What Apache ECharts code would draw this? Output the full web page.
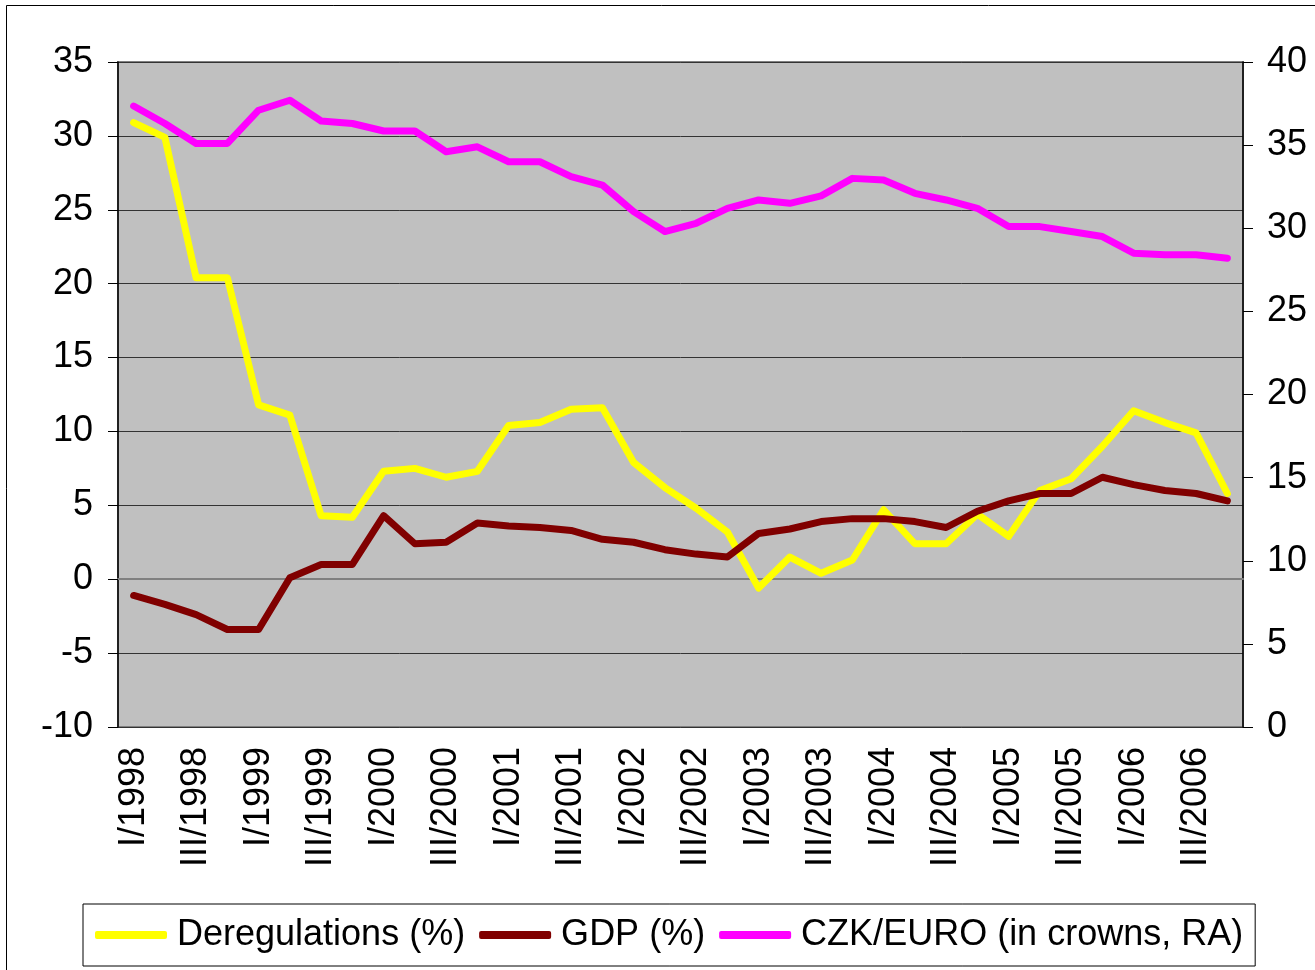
<!DOCTYPE html>
<html>
<head>
<meta charset="utf-8">
<script src="https://cdn.jsdelivr.net/npm/echarts@6/dist/echarts.min.js"></script>
<style>
  html, body { margin: 0; padding: 0; background: #fff; }
  #chart { width: 1315px; height: 970px; }
</style>
</head>
<body>
<div id="chart"></div>
<script>
// quarters I/1998 .. IV/2006
const quarters = [];
for (let y = 1998; y <= 2006; y++) {
  ["I", "II", "III", "IV"].forEach(q => quarters.push(q + "/" + y));
}

const deregulations = [
  30.9, 29.9, 20.4, 20.4, 11.8, 11.1, 4.3, 4.2, 7.3, 7.5, 6.9, 7.3,
  10.4, 10.6, 11.5, 11.6, 7.9, 6.2, 4.8, 3.2, -0.6, 1.5, 0.4, 1.3,
  4.7, 2.4, 2.4, 4.4, 2.9, 6.0, 6.8, 9.0, 11.4, 10.6, 9.9, 5.8
];

const gdp = [
  -1.1, -1.7, -2.4, -3.4, -3.4, 0.1, 1.0, 1.0, 4.3, 2.4, 2.5, 3.8,
  3.6, 3.5, 3.3, 2.7, 2.5, 2.0, 1.7, 1.5, 3.1, 3.4, 3.9, 4.1,
  4.1, 3.9, 3.5, 4.6, 5.3, 5.8, 5.8, 6.9, 6.4, 6.0, 5.8, 5.3
];

const czkEuro = [
  37.35, 36.3, 35.1, 35.1, 37.1, 37.7, 36.45, 36.3, 35.85, 35.85, 34.6, 34.9,
  34.0, 34.0, 33.1, 32.6, 31.0, 29.8, 30.3, 31.2, 31.7, 31.5, 31.95, 33.0,
  32.9, 32.1, 31.7, 31.2, 30.1, 30.1, 29.8, 29.5, 28.5, 28.4, 28.4, 28.2
];

const FONT = "'Liberation Sans', Arial, sans-serif";
const FS = 36;

const chart = echarts.init(document.getElementById("chart"), null, { renderer: "canvas" });

const lineSeries = (name, data, color, yAxisIndex) => ({
  type: "line",
  name,
  data,
  yAxisIndex,
  symbol: "none",
  lineStyle: { color, width: 7, cap: "round", join: "round" },
  itemStyle: { color },
  animation: false,
});

chart.setOption({
  backgroundColor: "#fff",
  animation: false,
  textStyle: { fontFamily: FONT, color: "#000" },
  graphic: [
    {
      type: "rect",
      shape: { x: 6.5, y: 5.5, width: 1330, height: 990 },
      style: { fill: "none", stroke: "#000", lineWidth: 1 },
      silent: true,
      z: -10,
    },
  ],
  grid: {
    left: 118,
    right: 72,
    top: 62,
    bottom: 243,
    show: true,
    backgroundColor: "#C0C0C0",
    borderColor: "#808080",
    borderWidth: 2,
  },
  legend: {
    left: 83,
    top: 904,
    padding: [13, 12, 13, 12],
    backgroundColor: "#fff",
    borderColor: "#000",
    borderWidth: 1,
    borderRadius: 0,
    icon: "roundRect",
    itemWidth: 72,
    itemHeight: 8,
    itemGap: 14,
    textStyle: { fontFamily: FONT, fontSize: FS, color: "#000", padding: [0, 0, 0, 5] },
    data: ["Deregulations (%)", "GDP (%)", "CZK/EURO (in crowns, RA)"],
  },
  xAxis: {
    type: "category",
    data: quarters,
    boundaryGap: true,
    axisLine: { show: true, lineStyle: { color: "#808080", width: 2 } },
    axisTick: { show: false },
    axisLabel: {
      interval: 1,
      rotate: 90,
      fontSize: FS,
      fontFamily: FONT,
      color: "#000",
      margin: 20,
    },
    splitLine: { show: false },
  },
  yAxis: [
    {
      type: "value",
      min: -10,
      max: 35,
      interval: 5,
      position: "left",
      axisLine: { show: true, lineStyle: { color: "#000", width: 1.5 } },
      axisTick: { show: true, inside: false, length: 10, lineStyle: { color: "#000" } },
      axisLabel: { fontSize: FS, fontFamily: FONT, color: "#000", margin: 25 },
      splitLine: { show: true, lineStyle: { color: "#333", width: 1 } },
    },
    {
      type: "value",
      min: 0,
      max: 40,
      interval: 5,
      position: "right",
      axisLine: { show: true, lineStyle: { color: "#000", width: 1.5 } },
      axisTick: { show: true, inside: false, length: 10, lineStyle: { color: "#000" } },
      axisLabel: { fontSize: FS, fontFamily: FONT, color: "#000", margin: 24 },
      splitLine: { show: false },
    },
  ],
  series: [
    lineSeries("Deregulations (%)", deregulations, "#FFFF00", 0),
    lineSeries("GDP (%)", gdp, "#800000", 0),
    lineSeries("CZK/EURO (in crowns, RA)", czkEuro, "#FF00FF", 1),
  ],
});
</script>
</body>
</html>
